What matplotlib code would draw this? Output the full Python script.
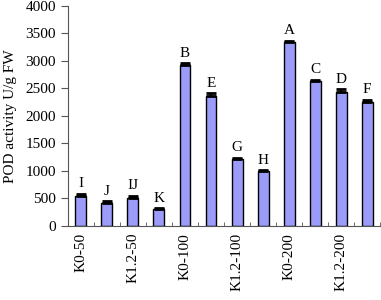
import numpy as np
import matplotlib.pyplot as plt

plt.rcParams['font.family'] = ['Liberation Serif', 'DejaVu Serif']

# 数据
groups = ['K0-50', 'K0.6-50', 'K1.2-50', 'K1.8-50',
          'K0-100', 'K0.6-100', 'K1.2-100', 'K1.8-100',
          'K0-200', 'K0.6-200', 'K1.2-200', 'K1.8-200']
pod = [545, 425, 500, 300, 2920, 2360, 1210, 990, 3340, 2630, 2440, 2250]
err = [40, 20, 50, 25, 40, 50, 30, 25, 30, 30, 50, 45]
letters = ['I', 'J', 'IJ', 'K', 'B', 'E', 'G', 'H', 'A', 'C', 'D', 'F']
shown = ['K0-50', '', 'K1.2-50', '', 'K0-100', '', 'K1.2-100', '',
         'K0-200', '', 'K1.2-200', '']

fig = plt.figure(figsize=(3.81, 3.0), dpi=100)
ax = fig.add_axes([0.178, 0.247, 0.82, 0.733])

x = np.arange(len(groups))
ax.bar(x, pod, width=0.42, color='#9b9bfa', edgecolor='black', linewidth=1.0)
ax.errorbar(x, pod, yerr=[np.zeros(len(err)), err], fmt='none', ecolor='black',
            elinewidth=1.5, capsize=3.8, capthick=2.0)

for xi, v, e, t in zip(x, pod, err, letters):
    ax.text(xi, v + e + 60, t, ha='center', va='bottom', fontsize=11)

ax.set_xlim(-0.5, len(groups) - 0.5)
ax.set_ylim(0, 4000)
ax.set_yticks(np.arange(0, 4001, 500))
ax.set_xticks(x)
ax.set_xticklabels(shown, rotation=90, fontsize=11)
ax.set_xticks(np.arange(-0.5, len(groups)), minor=True)
ax.tick_params(axis='x', which='major', length=0, pad=5)
ax.tick_params(axis='x', which='minor', direction='in', length=3, color='#555555')
ax.tick_params(axis='y', direction='out', length=5, labelsize=11, color='#555555')
ax.set_ylabel('POD activity U/g FW', fontsize=11, labelpad=6)

ax.spines['top'].set_visible(False)
ax.spines['right'].set_visible(False)
ax.spines['left'].set_color('#555555')
ax.spines['bottom'].set_color('#555555')

fig.savefig('out.png', dpi=100)
